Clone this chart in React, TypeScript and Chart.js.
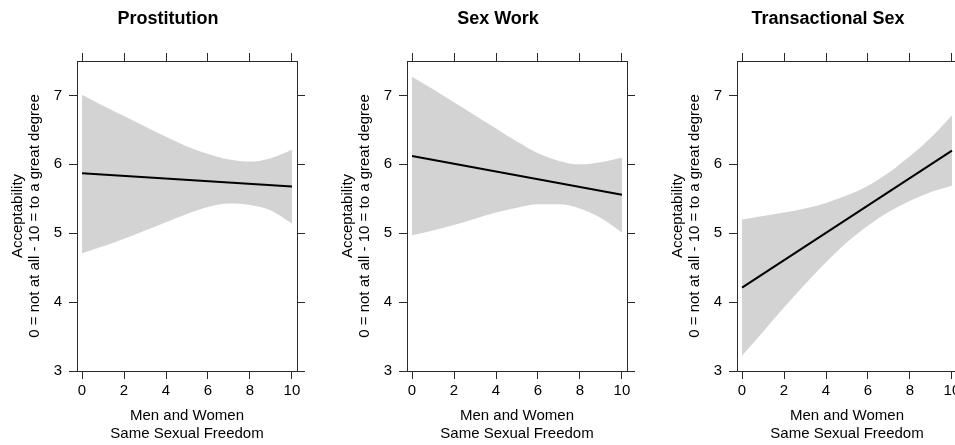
import React, { useEffect, useRef } from "react";
import { Chart, registerables } from "chart.js";

Chart.register(...registerables);

// ---------- data ----------
const PANEL_TITLES = ["Prostitution", "Sex Work", "Transactional Sex"];
const X_TITLE = ["Men and Women", "Same Sexual Freedom"];
const Y_TITLE = ["Acceptability", "0 = not at all - 10 = to a great degree"];
const X_TICKS = [0, 2, 4, 6, 8, 10];
const Y_TICKS = [3, 4, 5, 6, 7];
const X_MIN = -0.24;
const X_MAX = 10.24;
const Y_MIN = 3;
const Y_MAX = 7.5;

const BAND_X = [0, 1, 2, 3, 4, 5, 6, 7, 8, 9, 10];
const FIT_X = [0, 10];

const PROSTITUTION_UPPER = [7.01, 6.85, 6.7, 6.55, 6.4, 6.26, 6.15, 6.07, 6.04, 6.09, 6.21];
const PROSTITUTION_LOWER = [4.71, 4.81, 4.92, 5.04, 5.16, 5.28, 5.38, 5.43, 5.41, 5.33, 5.14];
const PROSTITUTION_FIT = [5.87, 5.68];

const SEXWORK_UPPER = [7.27, 7.09, 6.9, 6.71, 6.52, 6.33, 6.16, 6.05, 6.0, 6.03, 6.1];
const SEXWORK_LOWER = [4.97, 5.04, 5.12, 5.21, 5.3, 5.37, 5.42, 5.42, 5.36, 5.22, 5.01];
const SEXWORK_FIT = [6.12, 5.56];

const TRANSACTIONAL_UPPER = [5.2, 5.25, 5.3, 5.36, 5.44, 5.55, 5.69, 5.88, 6.12, 6.39, 6.71];
const TRANSACTIONAL_LOWER = [3.22, 3.57, 3.92, 4.26, 4.58, 4.87, 5.11, 5.31, 5.47, 5.6, 5.69];
const TRANSACTIONAL_FIT = [4.21, 6.2];

const PANELS = [
  { title: PANEL_TITLES[0], upper: PROSTITUTION_UPPER, lower: PROSTITUTION_LOWER, fit: PROSTITUTION_FIT },
  { title: PANEL_TITLES[1], upper: SEXWORK_UPPER, lower: SEXWORK_LOWER, fit: SEXWORK_FIT },
  { title: PANEL_TITLES[2], upper: TRANSACTIONAL_UPPER, lower: TRANSACTIONAL_LOWER, fit: TRANSACTIONAL_FIT },
];

// ---------- style ----------
const FONT = "'Liberation Sans', Arial, Helvetica, sans-serif";
const FRAME = "#2b2b2b";
const BAND = "#d3d3d3";
const CANVAS_W = 336;
const CANVAS_H = 445;
const PANEL_STEP = 330;

function Panel({ idx, title, upper, lower, fit }: any) {
  const ref = useRef<HTMLCanvasElement>(null);

  useEffect(() => {
    const canvas = ref.current;
    if (!canvas) return;
    const titleFontSize = 18;
    const titleLH = 1.2;
    const titlePadTop = 8;
    const titleBox = titlePadTop + titleFontSize * titleLH;

    const gridOpts = {
      drawOnChartArea: false,
      drawTicks: true,
      tickLength: 8,
      color: FRAME,
      lineWidth: 1,
    };
    const borderOpts = { display: true, color: FRAME, width: 1 };
    const xTicksBuilder = (s: any) => {
      s.ticks = X_TICKS.map((v) => ({ value: v }));
    };
    const yTicksBuilder = (s: any) => {
      s.ticks = Y_TICKS.map((v) => ({ value: v }));
    };

    const chart = new Chart(canvas, {
      type: "line",
      data: {
        datasets: [
          {
            label: "fit",
            data: FIT_X.map((x, i) => ({ x, y: fit[i] })),
            borderColor: "#000000",
            borderWidth: 2,
            pointRadius: 0,
            fill: false,
            tension: 0,
          },
          {
            label: "upper",
            data: BAND_X.map((x, i) => ({ x, y: upper[i] })),
            borderWidth: 0,
            borderColor: "rgba(0,0,0,0)",
            backgroundColor: BAND,
            pointRadius: 0,
            fill: "+1",
            cubicInterpolationMode: "monotone",
          },
          {
            label: "lower",
            data: BAND_X.map((x, i) => ({ x, y: lower[i] })),
            borderWidth: 0,
            borderColor: "rgba(0,0,0,0)",
            backgroundColor: BAND,
            pointRadius: 0,
            fill: false,
            cubicInterpolationMode: "monotone",
          },
        ],
      },
      options: {
        responsive: false,
        animation: false,
        events: [],
        layout: { padding: 0 },
        plugins: {
          legend: { display: false },
          tooltip: { enabled: false },
          filler: { drawTime: "beforeDatasetsDraw" },
          title: {
            display: true,
            text: title,
            color: "#000000",
            font: { family: FONT, size: titleFontSize, weight: "bold", lineHeight: titleLH },
            padding: { top: titlePadTop, bottom: 0 },
          },
        },
        scales: {
          x: {
            type: "linear",
            position: "bottom",
            min: X_MIN,
            max: X_MAX,
            afterBuildTicks: xTicksBuilder,
            afterFit: (s: any) => {
              s.height = 74;
            },
            grid: gridOpts,
            border: borderOpts,
            ticks: {
              color: "#000000",
              font: { family: FONT, size: 15, lineHeight: 1.2 },
              padding: 3,
              maxRotation: 0,
              autoSkip: false,
            },
            title: {
              display: true,
              text: X_TITLE,
              color: "#000000",
              font: { family: FONT, size: 15, lineHeight: 1.15 },
              padding: { top: 0, bottom: 3 },
            },
          },
          x2: {
            type: "linear",
            position: "top",
            min: X_MIN,
            max: X_MAX,
            afterBuildTicks: xTicksBuilder,
            afterFit: (s: any) => {
              s.height = 61 - titleBox;
            },
            grid: gridOpts,
            border: borderOpts,
            ticks: { display: false },
          },
          y: {
            type: "linear",
            position: "left",
            min: Y_MIN,
            max: Y_MAX,
            afterBuildTicks: yTicksBuilder,
            afterFit: (s: any) => {
              s.width = 77;
            },
            grid: gridOpts,
            border: borderOpts,
            ticks: {
              color: "#000000",
              font: { family: FONT, size: 15, lineHeight: 1.2 },
              padding: 7,
              autoSkip: false,
            },
            title: {
              display: true,
              text: Y_TITLE,
              color: "#000000",
              font: { family: FONT, size: 15, lineHeight: 1.1 },
              padding: { top: 10, bottom: 0 },
            },
          },
          y2: {
            type: "linear",
            position: "right",
            min: Y_MIN,
            max: Y_MAX,
            afterBuildTicks: yTicksBuilder,
            afterFit: (s: any) => {
              s.width = CANVAS_W - 297;
            },
            grid: gridOpts,
            border: borderOpts,
            ticks: { display: false },
          },
        },
      } as any,
    });
    return () => chart.destroy();
  }, [title, upper, lower, fit]);

  return (
    <canvas
      ref={ref}
      width={CANVAS_W}
      height={CANVAS_H}
      style={{ position: "absolute", left: idx * PANEL_STEP, top: 0, width: CANVAS_W, height: CANVAS_H }}
    />
  );
}

export default function App() {
  return (
    <div
      style={{
        position: "fixed",
        left: 0,
        top: 0,
        width: 955,
        height: 445,
        overflow: "hidden",
        background: "#ffffff",
      }}
    >
      {PANELS.map((p, i) => (
        <Panel key={p.title} idx={i} title={p.title} upper={p.upper} lower={p.lower} fit={p.fit} />
      ))}
    </div>
  );
}
